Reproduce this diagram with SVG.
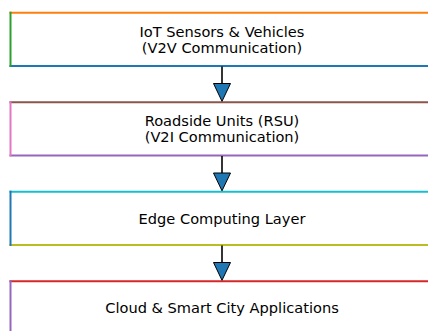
<svg xmlns="http://www.w3.org/2000/svg" width="428" height="331" viewBox="0 0 428 331">
<style>
.e{stroke-width:2;stroke-linecap:square;fill:none}
.t{font-family:"DejaVu Sans",sans-serif;font-size:14.6px;fill:#000;text-anchor:middle}
.ln{stroke:#000;stroke-width:1.6;fill:none}
.hd{fill:#1f77b4;stroke:#000;stroke-width:1;stroke-linejoin:miter}
</style>
<rect width="428" height="331" fill="#fff"/>
<g id="node1">
<line class="e" x1="10.5" y1="65.9" x2="433.5" y2="65.9" stroke="#1f77b4"/>
<line class="e" x1="10.5" y1="12.7" x2="433.5" y2="12.7" stroke="#ff7f0e"/>
<line class="e" x1="10.5" y1="12.7" x2="10.5" y2="65.9" stroke="#2ca02c"/>
<line class="e" x1="433.5" y1="12.7" x2="433.5" y2="65.9" stroke="#d62728"/>
<text class="t" x="222" y="37">IoT Sensors &amp; Vehicles</text>
<text class="t" x="222" y="53">(V2V Communication)</text>
</g>
<g id="node2">
<line class="e" x1="10.5" y1="155.4" x2="433.5" y2="155.4" stroke="#9467bd"/>
<line class="e" x1="10.5" y1="102.2" x2="433.5" y2="102.2" stroke="#8c564b"/>
<line class="e" x1="10.5" y1="102.2" x2="10.5" y2="155.4" stroke="#e377c2"/>
<line class="e" x1="433.5" y1="102.2" x2="433.5" y2="155.4" stroke="#7f7f7f"/>
<text class="t" x="222" y="126.3">Roadside Units (RSU)</text>
<text class="t" x="222" y="142.3">(V2I Communication)</text>
</g>
<g id="node3">
<line class="e" x1="10.5" y1="244.9" x2="433.5" y2="244.9" stroke="#bcbd22"/>
<line class="e" x1="10.5" y1="191.7" x2="433.5" y2="191.7" stroke="#17becf"/>
<line class="e" x1="10.5" y1="191.7" x2="10.5" y2="244.9" stroke="#1f77b4"/>
<line class="e" x1="433.5" y1="191.7" x2="433.5" y2="244.9" stroke="#ff7f0e"/>
<text class="t" x="222" y="224">Edge Computing Layer</text>
</g>
<g id="node4">
<line class="e" x1="10.5" y1="334.4" x2="433.5" y2="334.4" stroke="#2ca02c"/>
<line class="e" x1="10.5" y1="281.2" x2="433.5" y2="281.2" stroke="#d62728"/>
<line class="e" x1="10.5" y1="281.2" x2="10.5" y2="334.4" stroke="#9467bd"/>
<line class="e" x1="433.5" y1="281.2" x2="433.5" y2="334.4" stroke="#8c564b"/>
<text class="t" x="222" y="312.5">Cloud &amp; Smart City Applications</text>
</g>
<g id="connectors">
<line class="ln" x1="222" y1="66.5" x2="222" y2="84"/>
<polygon class="hd" points="213.5,83.5 230.5,83.5 222,101.3"/>
<line class="ln" x1="222" y1="156" x2="222" y2="173.5"/>
<polygon class="hd" points="213.5,173 230.5,173 222,190.8"/>
<line class="ln" x1="222" y1="245.5" x2="222" y2="263"/>
<polygon class="hd" points="213.5,262.5 230.5,262.5 222,280.3"/>
</g>
</svg>
